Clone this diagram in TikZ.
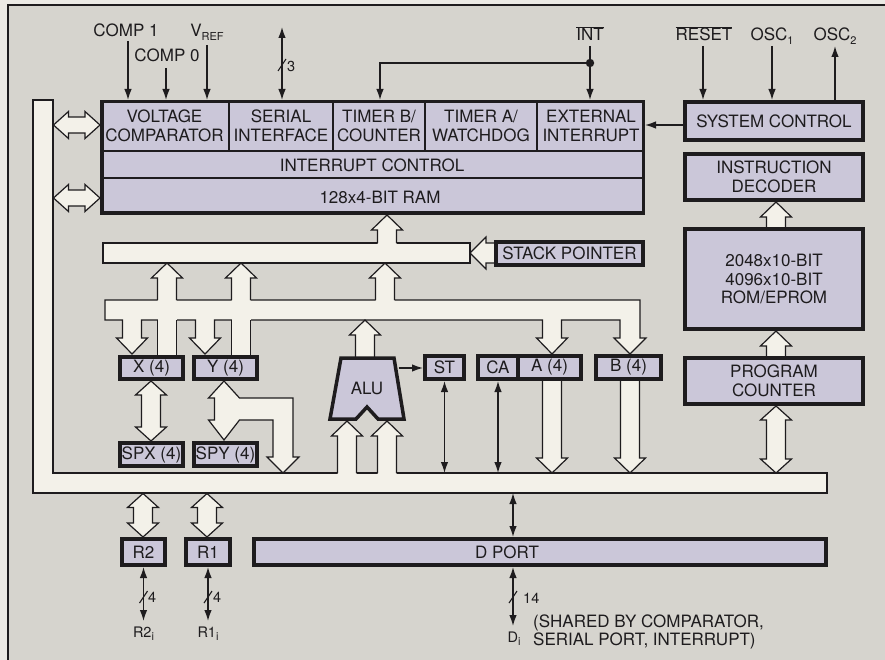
\documentclass[tikz,border=0pt]{standalone}
\usepackage{fontspec}
\setmainfont{TeX Gyre Heros}
\usetikzlibrary{arrows.meta}
\definecolor{pagec}{RGB}{236,234,229}
\definecolor{bgc}{RGB}{214,212,206}
\definecolor{busc}{RGB}{243,241,233}
\definecolor{boxc}{RGB}{203,199,217}
\definecolor{inkc}{RGB}{30,28,30}
\newcommand\lbl{\fontsize{17}{18.8}\selectfont}
\newcommand\smlbl{\fontsize{14.5}{15}\selectfont}
\newcommand\sbs[1]{\raisebox{-3.5pt}{\fontsize{11}{11}\selectfont #1}}
\newcommand\ovl[1]{$\overline{\mbox{#1}}$}
\tikzset{
 bline/.style={draw=inkc, line width=1.2pt, line join=miter},
 busst/.style={fill=busc, draw=inkc, line width=1.2pt, line join=miter},
 bbox/.style={draw=inkc, fill=boxc, line width=4pt, inner sep=0pt, align=center, font=\lbl, text=inkc},
 txt/.style={inner sep=0pt, align=center, font=\lbl, text=inkc},
 stxt/.style={inner sep=0pt, align=center, font=\smlbl, text=inkc},
 sig/.style={draw=inkc, line width=1.4pt, -{Latex[length=11pt,width=7.5pt]}},
 sigb/.style={draw=inkc, line width=1.4pt, {Latex[length=11pt,width=7.5pt]}-{Latex[length=11pt,width=7.5pt]}},
 slsh/.style={draw=inkc, line width=1.1pt},
}
% x, tip y, tail y (tail below)
\newcommand\UpA[3]{%
 \fill[busc] ({#1-9.5},{#3+1.5}) -- ({#1-9.5},{#2+15}) -- ({#1-15.5},{#2+15}) -- (#1,#2) -- ({#1+15.5},{#2+15}) -- ({#1+9.5},{#2+15}) -- ({#1+9.5},{#3+1.5}) -- cycle;
 \draw[bline] ({#1-9.5},#3) -- ({#1-9.5},{#2+15}) -- ({#1-15.5},{#2+15}) -- (#1,#2) -- ({#1+15.5},{#2+15}) -- ({#1+9.5},{#2+15}) -- ({#1+9.5},#3);}
% x, tail y, tip y (tip below)
\newcommand\DnA[3]{%
 \fill[busc] ({#1-9.5},{#2-1.5}) -- ({#1-9.5},{#3-15}) -- ({#1-15.5},{#3-15}) -- (#1,#3) -- ({#1+15.5},{#3-15}) -- ({#1+9.5},{#3-15}) -- ({#1+9.5},{#2-1.5}) -- cycle;
 \draw[bline] ({#1-9.5},#2) -- ({#1-9.5},{#3-15}) -- ({#1-15.5},{#3-15}) -- (#1,#3) -- ({#1+15.5},{#3-15}) -- ({#1+9.5},{#3-15}) -- ({#1+9.5},#2);}
\newcommand\DblV[3]{%
 \path[busst] (#1,#2) -- ({#1+15.5},{#2+14}) -- ({#1+9.5},{#2+14}) -- ({#1+9.5},{#3-14}) -- ({#1+15.5},{#3-14}) -- (#1,#3) -- ({#1-15.5},{#3-14}) -- ({#1-9.5},{#3-14}) -- ({#1-9.5},{#2+14}) -- ({#1-15.5},{#2+14}) -- cycle;}
\newcommand\DblH[3]{%
 \path[busst] (#2,#1) -- ({#2+15},{#1-13.5}) -- ({#2+15},{#1-8}) -- ({#3-15},{#1-8}) -- ({#3-15},{#1-13.5}) -- (#3,#1) -- ({#3-15},{#1+13.5}) -- ({#3-15},{#1+8}) -- ({#2+15},{#1+8}) -- ({#2+15},{#1+13.5}) -- cycle;}
\newcommand\Shaft[3]{%
 \fill[busc] ({#1-9.5},{#2-1.5}) rectangle ({#1+9.5},{#3+1.5});
 \draw[bline] ({#1-9.5},#2) -- ({#1-9.5},#3) ({#1+9.5},#2) -- ({#1+9.5},#3);}
% name, x1, y1, x2, y2 (outer edges), text
\newcommand\mkbox[6]{\node[bbox, minimum width={#4-#2-4}, minimum height={#5-#3-4}] (#1) at ({(#2+#4)/2},{(#3+#5)/2}) {#6};}
\begin{document}
\begin{tikzpicture}[x=1pt,y=-1pt]
\useasboundingbox (0,0) rectangle (885,660);
\fill[pagec] (0,0) rectangle (885,660);
\fill[bgc] (8,5) rectangle (885,660);
\draw[inkc, line width=1.2pt] (885,5) -- (8,5) -- (8,660);

% ---- buses ----
\path[busst] (33,100) -- (53,100) -- (53,473) -- (827,473) -- (827,493) -- (33,493) -- cycle;
\path[busst] (103,243) rectangle (470,263);
\path[busst] (105,300) -- (640,300) -- (640,338) -- (646,338) -- (630,354) -- (614,338) -- (620,338) -- (620,320)
  -- (561.5,320) -- (561.5,338) -- (567.5,338) -- (552,354) -- (536.5,338) -- (542.5,338) -- (542.5,320)
  -- (214.5,320) -- (214.5,338) -- (220.5,338) -- (205,354) -- (189.5,338) -- (195.5,338) -- (195.5,320)
  -- (141.5,320) -- (141.5,338) -- (147.5,338) -- (132,354) -- (116.5,338) -- (122.5,338) -- (122.5,320)
  -- (105,320) -- cycle;
% Y <-> SPY with branch to bottom bus
\path[busst] (224,381) -- (239.5,398) -- (293,398) -- (293,457) -- (299,457) -- (283,473) -- (267,457) -- (273,457)
  -- (273,420) -- (239.5,420) -- (224,440) -- (208.5,420) -- (214.5,420) -- (214.5,398) -- (208.5,398) -- cycle;

% ---- block arrows ----
\DblH{125}{53.5}{100}
\DblH{198}{53.5}{100}
\UpA{387}{215}{243}
\UpA{385}{263}{300}
\UpA{167}{263}{300}
\UpA{241}{263}{300}
\Shaft{167}{320}{355}
\Shaft{241}{320}{355}
\UpA{365}{320}{357}
\UpA{347}{421}{473}
\UpA{387}{421}{473}
\DnA{552}{381}{473}
\DnA{630}{381}{473}
\DblV{151}{381}{441}
\DblV{143}{493.5}{537}
\DblV{207}{493.5}{537}
\UpA{776}{202}{227}
\UpA{776}{331}{356}
\DblV{776}{406}{473}
\fill[busc] (497,243) -- (486,243) -- (486,237) -- (470,253) -- (486,269) -- (486,263) -- (497,263) -- cycle;
\draw[bline] (497,243) -- (486,243) -- (486,237) -- (470,253) -- (486,269) -- (486,263) -- (497,263);

% ---- main block ----
\node[bbox, line width=3.5pt, minimum width=541.5, minimum height=111.5] (blk) at (372.5,157.5) {};
\draw[inkc, line width=1.3pt] (102,151) -- (643,151) (102,178) -- (643,178)
  (229,102) -- (229,151) (333,102) -- (333,151) (425,102) -- (425,151) (537,102) -- (537,151);
\node[txt] (vc) at (164.5,126) {VOLTAGE\\COMPARATOR};
\node[txt] (si) at (281,126) {SERIAL\\INTERFACE};
\node[txt] (tb) at (379,126) {TIMER B/\\COUNTER};
\node[txt] (ta) at (481,126) {TIMER A/\\WATCHDOG};
\node[txt] (ei) at (591,126) {EXTERNAL\\INTERRUPT};
\node[txt] (ic) at (372,165) {INTERRUPT CONTROL};
\node[txt] (ram) at (380,197) {128x4-BIT RAM};

% ---- boxes ----
\mkbox{sys}{683}{100}{865}{142}{SYSTEM CONTROL}
\mkbox{dec}{683}{152}{865}{202}{INSTRUCTION\\DECODER}
\mkbox{rom}{683}{227}{865}{331}{2048x10-BIT\\4096x10-BIT\\ROM/EPROM}
\mkbox{pc}{683}{356}{865}{406}{PROGRAM\\COUNTER}
\mkbox{sp}{494}{240}{645}{267}{STACK POINTER}
\mkbox{xr}{118}{355}{185}{381}{X (4)}
\mkbox{yr}{192}{355}{259}{381}{Y (4)}
\mkbox{spx}{118}{441}{185}{468}{SPX (4)}
\mkbox{spy}{192}{441}{259}{468}{SPY (4)}
\mkbox{st}{423}{354}{466}{381}{ST}
\mkbox{ca}{476}{354}{520}{381}{CA}
\mkbox{ar}{516}{354}{583}{381}{A (4)}
\mkbox{br}{594}{354}{663}{381}{B (4)}
\mkbox{r2}{120}{537}{167}{567}{R2}
\mkbox{r1}{184}{537}{232}{567}{R1}
\mkbox{dport}{252}{537}{828}{567}{}
\node[txt] (dpt) at (507,552) {D PORT};

% ALU
\draw[inkc, line width=3.5pt, fill=boxc, line join=miter] (341,358) -- (394,358) -- (404,419) -- (378,419) -- (367,407) -- (356,419) -- (330,419) -- cycle;
\node[txt] (alu) at (367,388) {ALU};

% ---- signal lines ----
\coordinate (busTop) at (0,473);
\coordinate (busBot) at (0,493);
\coordinate (cp1) at (128,41);
\coordinate (cp0) at (166,68);
\coordinate (vr) at (207,45);
\coordinate (ser) at (282,27);
\coordinate (intT) at (590,46);
\coordinate (intJ) at (590,63);
\coordinate (tbT) at (380,63);
\coordinate (rst) at (703,46);
\coordinate (os1) at (772,46);
\coordinate (os2) at (835,46);
\draw[sig] (cp1) -- (cp1 |- blk.north);
\draw[sig] (cp0) -- (cp0 |- blk.north);
\draw[sig] (vr) -- (vr |- blk.north);
\draw[sigb] (ser) -- (ser |- blk.north);
\draw[slsh] (278,71) -- (286,59);
\draw[sig] (intT) -- (intT |- blk.north);
\draw[sig] (intJ) -- (tbT) -- (tbT |- blk.north);
\fill[inkc] (intJ) circle (4.2);
\draw[sig] (rst) -- (rst |- sys.north);
\draw[sig] (os1) -- (os1 |- sys.north);
\draw[sig] (os2 |- sys.north) -- (os2);
\coordinate (sysw) at ([yshift=-4pt]sys.west);
\draw[sig] (sysw) -- (sysw -| blk.east);
\coordinate (aluR) at (398.5,368);
\draw[sig] (aluR) -- (aluR -| st.west);
\draw[sigb] (st.south) -- (st.south |- busTop);
\draw[sigb] (ca.south) -- (ca.south |- busTop);
\coordinate (dpx) at (513,0);
\draw[sigb] (dpx |- busBot) -- (dpx |- dport.north);
\coordinate (diE) at (513,626);
\draw[sigb] (dpx |- dport.south) -- (diE);
\draw[slsh] (509,603) -- (517,591);
\coordinate (r2E) at (143.5,621);
\coordinate (r1E) at (208,621);
\draw[sigb] (r2.south) -- (r2E);
\draw[sigb] (r1.south) -- (r1E);
\draw[slsh] (139.5,603) -- (147.5,591);
\draw[slsh] (204,603) -- (212,591);

% ---- labels ----
\node[txt, anchor=base] (lc1) at (126,37) {COMP 1};
\node[txt, anchor=base] (lc0) at (167,62) {COMP 0};
\node[txt, anchor=base] (lvr) at (207,37) {V\sbs{REF}};
\node[stxt, anchor=base west] (l3) at (287,72) {3};
\node[txt, anchor=base] (lint) at (590,41) {\ovl{INT}};
\node[txt, anchor=base] (lrst) at (704,41) {\ovl{RESET}};
\node[txt, anchor=base] (los1) at (772,41) {OSC\sbs{1}};
\node[txt, anchor=base] (los2) at (835,41) {OSC\sbs{2}};
\node[stxt, anchor=base west] (l4a) at (148,602) {4};
\node[stxt, anchor=base west] (l4b) at (213,602) {4};
\node[stxt, anchor=base west] (l14) at (523,603) {14};
\node[stxt, anchor=base] (lr2) at (143.5,637) {R2\sbs{i}};
\node[stxt, anchor=base] (lr1) at (208,637) {R1\sbs{i}};
\node[stxt, anchor=base] (ldi) at (514,642) {D\sbs{i}};
\node[txt, anchor=base west] (lsh1) at (533,627) {(SHARED BY COMPARATOR,};
\node[txt, anchor=base west] (lsh2) at (533,645) {SERIAL PORT, INTERRUPT)};
\end{tikzpicture}
\end{document}
